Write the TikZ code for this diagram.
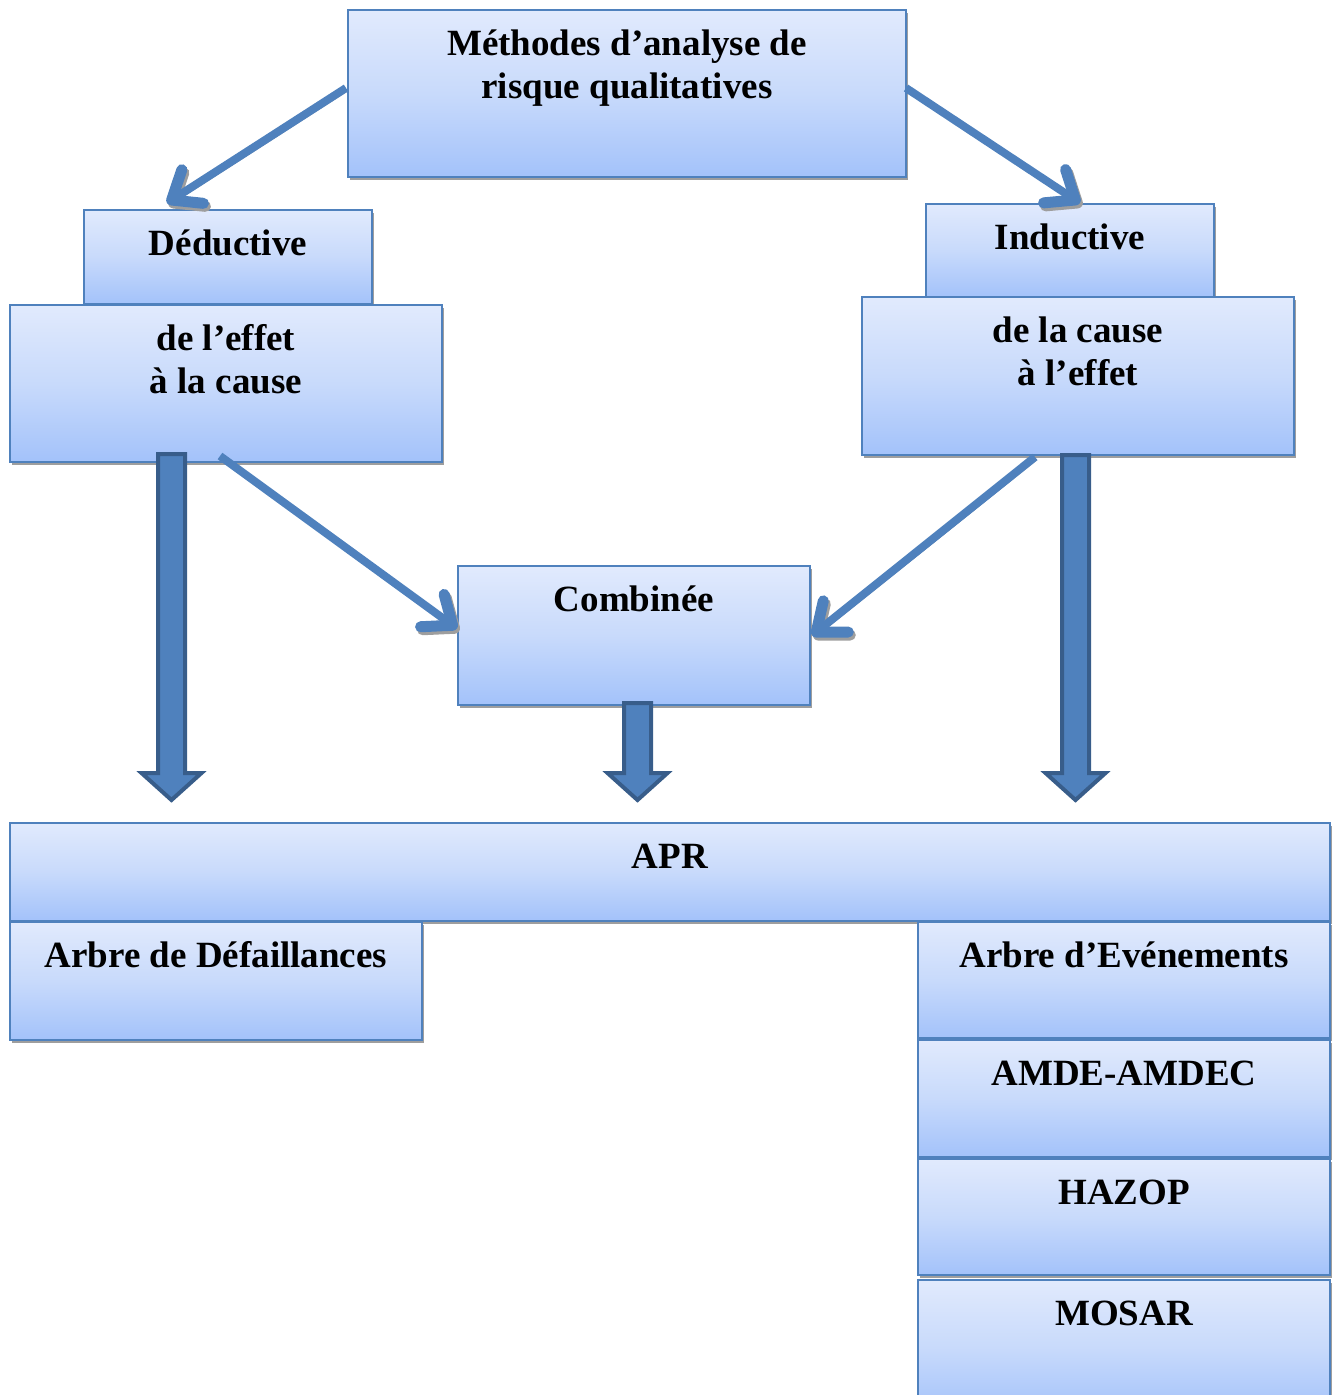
\documentclass[tikz,border=0pt]{standalone}
\usepackage{fontspec}
\setmainfont{Liberation Serif}
\usetikzlibrary{calc,shadows,arrows.meta}

\definecolor{boxtop}{RGB}{225,234,253}
\definecolor{boxmid}{RGB}{200,218,251}
\definecolor{boxbot}{RGB}{163,194,250}
\definecolor{boxline}{RGB}{79,129,189}
\definecolor{arrowblue}{RGB}{79,129,189}
\definecolor{arrowrim}{RGB}{56,93,138}
\definecolor{shadegray}{RGB}{158,158,158}

% two centred lines whose first baseline is the baseline of the box
\newcommand\twolines[2]{\begin{tabular}[t]{@{}c@{}}#1\\#2\end{tabular}}

% wide block arrow: axis x, overlap into the source box, source node, target node
\newcommand\blockarrow[4]{%
  \draw[blockarr] let \p1=(#3.south), \p2=(#4.north) in
    (#1pt-13.5pt,\y1+#2pt) -- (#1pt+13.5pt,\y1+#2pt) -- (#1pt+13.5pt,\y2+50pt)
    -- (#1pt+30pt,\y2+50pt) -- (#1pt,\y2+23pt) -- (#1pt-30pt,\y2+50pt)
    -- (#1pt-13.5pt,\y2+50pt) -- cycle;}

\tikzset{
  box/.style={shape=rectangle, draw=boxline, line width=2.5pt,
    top color=boxtop, bottom color=boxbot, middle color=boxmid,
    drop shadow={shadow xshift=2pt, shadow yshift=-3pt, fill=shadegray, opacity=1},
    anchor=north west, inner xsep=0pt, inner ysep=0pt, outer sep=0pt,
    text height=45pt, font=\fontsize{37}{43}\selectfont\bfseries},
  thinarr/.style={draw=arrowblue, line width=8pt,
    -{Straight Barb[length=25pt,width=40pt,line width=11pt,round]},
    preaction={draw=shadegray, transform canvas={shift={(2pt,-3pt)}}}},
  blockarr/.style={fill=arrowblue, draw=arrowrim, line width=4pt, line join=miter}
}

\begin{document}
\begin{tikzpicture}[x=1pt,y=-1pt]
\useasboundingbox (0,0) rectangle (1332,1395);
\clip (0,0) rectangle (1332,1395);

% boxes, top to bottom
\node[box, minimum width=558pt, text depth=122pt] (meth) at (348,10)
  {\twolines{Méthodes d’analyse de}{risque qualitatives}};
\node[box, minimum width=288pt, text depth=49pt] (ded) at (84,210) {Déductive};
\node[box, minimum width=432pt, text depth=112pt] (effet) at (10,305)
  {\twolines{de l’effet}{à la cause}};
\node[box, minimum width=288pt, text depth=48pt] (ind) at (926,204) {Inductive};
\node[box, minimum width=432pt, text depth=113pt] (cause) at (862,297)
  {\twolines{de la cause}{à l’effet}};
\node[box, minimum width=352pt, text depth=94pt] (comb) at (458,566) {Combinée};
\node[box, minimum width=1320pt, text depth=53pt] (apr) at (10,823) {APR};
\node[box, minimum width=412pt, text depth=73pt] (arbd) at (10,922) {Arbre de Défaillances};
\node[box, minimum width=412pt, text depth=71pt] (arbe) at (918,922) {Arbre d’Evénements};
\node[box, minimum width=412pt, text depth=72pt] (amde) at (918,1040) {AMDE-AMDEC};
\node[box, minimum width=412pt, text depth=71pt] (hazop) at (918,1159) {HAZOP};
\node[box, minimum width=412pt, text depth=90pt] (mosar) at (918,1280) {MOSAR};

% slanted arrows
\draw[thinarr] ($(meth.west)+(-2,-5.5)$) -- ($(ded.north west)+(83,-7)$);
\draw[thinarr] ($(meth.east)+(0,-5.5)$) -- ($(ind.north west)+(154,-1)$);
\draw[thinarr] ($(effet.south)+(-6,-6)$) -- ($(comb.west)+(-1,-7)$);
\draw[thinarr] ($(cause.south)+(-43,2)$) -- ($(comb.east)+(2,0)$);

% block arrows down to the methods
\blockarrow{171.5}{8}{effet}{apr}
\blockarrow{637.5}{2}{comb}{apr}
\blockarrow{1075.5}{0}{cause}{apr}
\end{tikzpicture}
\end{document}
